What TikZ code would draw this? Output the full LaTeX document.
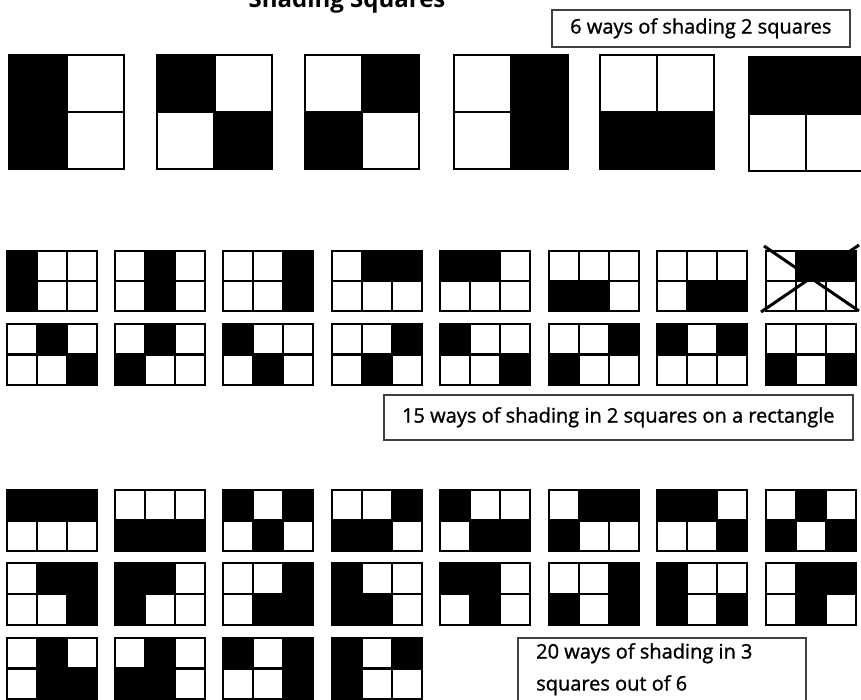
\documentclass[tikz,border=0pt]{standalone}
\usepackage{fontspec}
\setmainfont{Open Sans}
\newfontfamily\boxfont[FakeBold=1.2]{Open Sans}
\newcommand{\sqgrid}[7]{%
  \begin{scope}[shift={(#1,#2)}]
    \foreach \cc/\rr in {#7}{%
      \fill[cellfill] ({\cc*#3/#5},{\rr*#4/#6}) rectangle ({(\cc+1)*#3/#5},{(\rr+1)*#4/#6});
    }
    \draw[gridline] (0,0) rectangle (#3,#4);
    \foreach \k in {1,...,#5}{\draw[gridline] ({\k*#3/#5},0) -- ({\k*#3/#5},#4);}
    \foreach \k in {1,...,#6}{\draw[gridline] (0,{\k*#4/#6}) -- (#3,{\k*#4/#6});}
  \end{scope}}
\begin{document}
\begin{tikzpicture}[x=1pt,y=-1pt,
  gridline/.style={line width=2.2pt, draw=black},
  cellfill/.style={fill=black},
  crossline/.style={line width=3pt, draw=black},
  labelbox/.style={draw=black!75, line width=1.6pt, inner sep=0pt, anchor=north west},
  labeltext/.style={font=\boxfont\fontsize{20}{32}\selectfont}]
\useasboundingbox[fill=white] (0,0) rectangle (861,700);

% title
\node[anchor=base, font=\bfseries\fontsize{24}{28}\selectfont] (title) at (347,8) {Shading Squares};

% box 1
\node[labelbox, minimum width=298pt, minimum height=37pt, labeltext] (box1) at (551,9) {6 ways of shading 2 squares};

% top row: 2x2 grids
\sqgrid{9}{55}{115}{114}{2}{2}{0/0,0/1}
\sqgrid{157}{55}{115}{114}{2}{2}{0/0,1/1}
\sqgrid{305}{55}{114}{114}{2}{2}{1/0,0/1}
\sqgrid{454}{55}{114}{114}{2}{2}{1/0,1/1}
\sqgrid{600}{55}{114}{114}{2}{2}{0/1,1/1}
\sqgrid{749}{57}{114}{114}{2}{2}{0/0,1/0}

% middle row A
\sqgrid{7}{251}{90}{60}{3}{2}{0/0,0/1}
\sqgrid{115}{251}{90}{60}{3}{2}{1/0,1/1}
\sqgrid{223}{251}{90}{60}{3}{2}{2/0,2/1}
\sqgrid{332}{251}{90}{60}{3}{2}{1/0,2/0}
\sqgrid{440}{251}{90}{60}{3}{2}{0/0,1/0}
\sqgrid{549}{251}{90}{60}{3}{2}{0/1,1/1}
\sqgrid{657}{251}{90}{60}{3}{2}{1/1,2/1}
\sqgrid{766}{251}{90}{60}{3}{2}{1/0,2/0}
\coordinate (xa) at (761,312);
\coordinate (xb) at (859,245);
\coordinate (xc) at (764,246);
\coordinate (xd) at (859,311);
\draw[crossline] (xa) -- (xb);
\draw[crossline] (xc) -- (xd);

% middle row B
\sqgrid{7}{324}{90}{61}{3}{2}{1/0,2/1}
\sqgrid{115}{324}{90}{61}{3}{2}{1/0,0/1}
\sqgrid{223}{324}{90}{61}{3}{2}{0/0,1/1}
\sqgrid{332}{324}{90}{61}{3}{2}{2/0,1/1}
\sqgrid{440}{324}{90}{61}{3}{2}{0/0,2/1}
\sqgrid{549}{324}{90}{61}{3}{2}{2/0,0/1}
\sqgrid{657}{324}{90}{61}{3}{2}{0/0,2/0}
\sqgrid{766}{324}{90}{61}{3}{2}{0/1,2/1}

% box 2
\node[labelbox, minimum width=469pt, minimum height=45pt, labeltext] (box2) at (383,394) {15 ways of shading in 2 squares on a rectangle};

% bottom row 1
\sqgrid{7}{490}{90}{61}{3}{2}{0/0,1/0,2/0}
\sqgrid{115}{490}{90}{61}{3}{2}{0/1,1/1,2/1}
\sqgrid{223}{490}{90}{61}{3}{2}{0/0,2/0,1/1}
\sqgrid{332}{490}{90}{61}{3}{2}{2/0,0/1,1/1}
\sqgrid{440}{490}{90}{61}{3}{2}{0/0,1/1,2/1}
\sqgrid{549}{490}{90}{61}{3}{2}{1/0,2/0,0/1}
\sqgrid{657}{490}{90}{61}{3}{2}{0/0,1/0,2/1}
\sqgrid{766}{490}{90}{61}{3}{2}{1/0,0/1,2/1}

% bottom row 2
\sqgrid{7}{563}{90}{62}{3}{2}{1/0,2/0,2/1}
\sqgrid{115}{563}{90}{62}{3}{2}{0/0,1/0,0/1}
\sqgrid{223}{563}{90}{62}{3}{2}{2/0,1/1,2/1}
\sqgrid{332}{563}{90}{62}{3}{2}{0/0,0/1,1/1}
\sqgrid{440}{563}{90}{62}{3}{2}{0/0,1/0,1/1}
\sqgrid{549}{563}{90}{62}{3}{2}{2/0,0/1,2/1}
\sqgrid{657}{563}{90}{62}{3}{2}{0/0,0/1,2/1}
\sqgrid{766}{563}{90}{62}{3}{2}{1/0,2/0,1/1}

% bottom row 3
\sqgrid{7}{638}{90}{61}{3}{2}{1/0,1/1,2/1}
\sqgrid{115}{638}{90}{61}{3}{2}{1/0,0/1,1/1}
\sqgrid{223}{638}{90}{61}{3}{2}{0/0,2/0,2/1}
\sqgrid{332}{638}{90}{61}{3}{2}{0/0,2/0,0/1}

% box 3
\node[labelbox, minimum width=288pt, minimum height=70pt] (box3) at (517,637) {};
\node[labeltext, anchor=north west, align=left, inner sep=0pt] (text3) at (536,643) {20 ways of shading in 3\\squares out of 6};
\end{tikzpicture}
\end{document}
